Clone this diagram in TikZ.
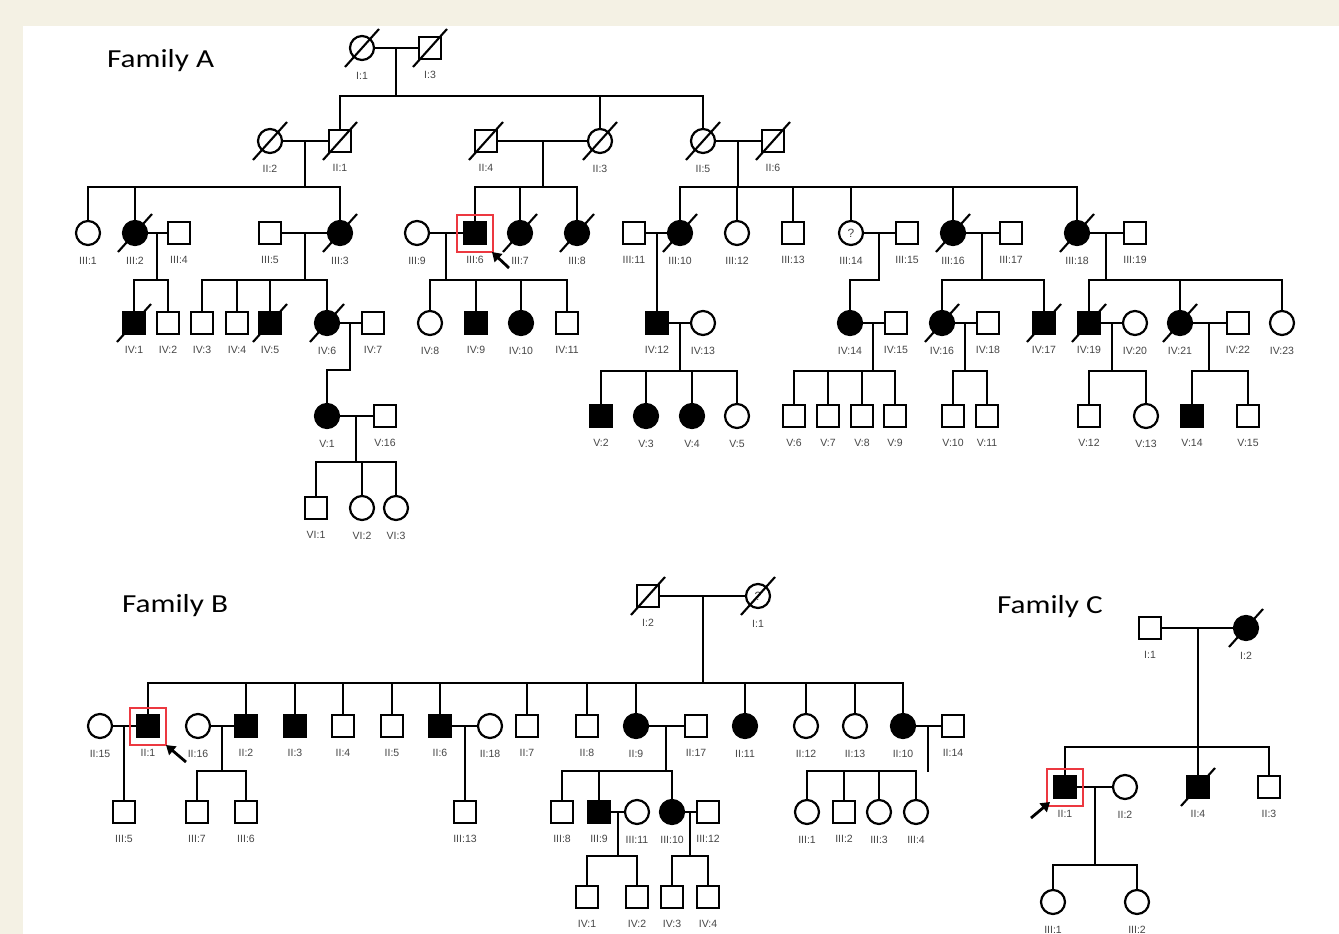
\documentclass[tikz,border=0pt]{standalone}
\usepackage{fontspec}
\setmainfont{Liberation Sans}
\newfontfamily\famfont[FakeStretch=1.2]{Carlito}
\usetikzlibrary{arrows.meta,calc}
\definecolor{beige}{RGB}{244,241,228}
\definecolor{labgray}{RGB}{70,70,70}
\definecolor{pred}{RGB}{236,56,64}
\tikzset{
  ln/.style={line width=2pt, line cap=rect},
  sym/.style={draw, line width=2.2pt, fill=white, inner sep=0pt},
  mal/.style={sym, rectangle, minimum size=22pt},
  fem/.style={sym, circle, minimum size=24pt},
  aff/.style={fill=black},
  near/.style={label distance=7pt},
  slash/.style={line width=2.1pt},
  pbox/.style={draw=pred, line width=2pt, minimum width=36pt, minimum height=37pt, inner sep=0pt},
  parr/.style={line width=2.8pt, -{Triangle[length=9pt,width=11pt]}},
  title/.style={anchor=base west, font=\famfont\fontsize{26}{30}\selectfont, inner sep=0pt},
  every label/.style={font=\fontsize{10.5}{11}\selectfont, text=labgray, inner sep=0pt},
  qmark/.style={font=\fontsize{12}{13}\selectfont, text=labgray}
}
\newcommand{\pers}[5]{\node[#1,label={below:{#5}}] (#2) at (#3,#4) {};}
\newcommand{\dead}[1]{\draw[slash] (#1.center) ++(-17,19) -- ++(34,-38);}
\newcommand{\marr}[3]{\draw[ln] (#1) -- (#2); \coordinate (#3) at ($(#1)!0.5!(#2)$);}
\newcommand{\kids}[5]{%
  \path (0,#2) coordinate (sy);
  \draw[ln] (#1) -- (#1 |- sy);
  \draw[ln] (#3 |- sy) -- (#4 |- sy);
  \foreach \kid in {#5} {\draw[ln] (\kid |- sy) -- (\kid);}
}
\begin{document}
\begin{tikzpicture}[x=1pt,y=-1pt,label distance=10.5pt]
\useasboundingbox (0,0) rectangle (1339,934);
\fill[beige] (0,0) rectangle (1339,934);
\fill[white] (23,26) rectangle (1339,934);

% ---------------- Family A ----------------
\node[title] (tA) at (107,68) {Family A};
% Gen I
\pers{fem}{aI1}{362}{48}{I:1}
\pers{mal}{aI3}{430}{48}{I:3}
% Gen II
\pers{fem}{aII2}{270}{141}{II:2}
\pers{mal}{aII1}{340}{141}{II:1}
\pers{mal}{aII4}{486}{141}{II:4}
\pers{fem}{aII3}{600}{141}{II:3}
\pers{fem}{aII5}{703}{141}{II:5}
\pers{mal}{aII6}{773}{141}{II:6}
% Gen III
\pers{fem}{aIII1}{88}{233}{III:1}
\pers{fem,aff}{aIII2}{135}{233}{III:2}
\pers{mal}{aIII4}{179}{233}{III:4}
\pers{mal}{aIII5}{270}{233}{III:5}
\pers{fem,aff}{aIII3}{340}{233}{III:3}
\pers{fem}{aIII9}{417}{233}{III:9}
\pers{mal,aff}{aIII6}{475}{233}{III:6}
\pers{fem,aff}{aIII7}{520}{233}{III:7}
\pers{fem,aff}{aIII8}{577}{233}{III:8}
\pers{mal}{aIII11}{634}{233}{III:11}
\pers{fem,aff}{aIII10}{680}{233}{III:10}
\pers{fem}{aIII12}{737}{233}{III:12}
\pers{mal}{aIII13}{793}{233}{III:13}
\node[fem,qmark,label={below:{III:14}}] (aIII14) at (851,233) {?};
\pers{mal}{aIII15}{907}{233}{III:15}
\pers{fem,aff}{aIII16}{953}{233}{III:16}
\pers{mal}{aIII17}{1011}{233}{III:17}
\pers{fem,aff}{aIII18}{1077}{233}{III:18}
\pers{mal}{aIII19}{1135}{233}{III:19}
% Gen IV
\pers{mal,aff}{aIV1}{134}{323}{IV:1}
\pers{mal}{aIV2}{168}{323}{IV:2}
\pers{mal}{aIV3}{202}{323}{IV:3}
\pers{mal}{aIV4}{237}{323}{IV:4}
\pers{mal,aff}{aIV5}{270}{323}{IV:5}
\pers{fem,aff}{aIV6}{327}{323}{IV:6}
\pers{mal}{aIV7}{373}{323}{IV:7}
\pers{fem}{aIV8}{430}{323}{IV:8}
\pers{mal,aff}{aIV9}{476}{323}{IV:9}
\pers{fem,aff}{aIV10}{521}{323}{IV:10}
\pers{mal}{aIV11}{567}{323}{IV:11}
\pers{mal,aff}{aIV12}{657}{323}{IV:12}
\pers{fem}{aIV13}{703}{323}{IV:13}
\pers{fem,aff}{aIV14}{850}{323}{IV:14}
\pers{mal}{aIV15}{896}{323}{IV:15}
\pers{fem,aff}{aIV16}{942}{323}{IV:16}
\pers{mal}{aIV18}{988}{323}{IV:18}
\pers{mal,aff}{aIV17}{1044}{323}{IV:17}
\pers{mal,aff}{aIV19}{1089}{323}{IV:19}
\pers{fem}{aIV20}{1135}{323}{IV:20}
\pers{fem,aff}{aIV21}{1180}{323}{IV:21}
\pers{mal}{aIV22}{1238}{323}{IV:22}
\pers{fem}{aIV23}{1282}{323}{IV:23}
% Gen V
\pers{fem,aff}{aV1}{327}{416}{V:1}
\pers{mal}{aV16}{385}{416}{V:16}
\pers{mal,aff}{aV2}{601}{416}{V:2}
\pers{fem,aff}{aV3}{646}{416}{V:3}
\pers{fem,aff}{aV4}{692}{416}{V:4}
\pers{fem}{aV5}{737}{416}{V:5}
\pers{mal}{aV6}{794}{416}{V:6}
\pers{mal}{aV7}{828}{416}{V:7}
\pers{mal}{aV8}{862}{416}{V:8}
\pers{mal}{aV9}{895}{416}{V:9}
\pers{mal}{aV10}{953}{416}{V:10}
\pers{mal}{aV11}{987}{416}{V:11}
\pers{mal}{aV12}{1089}{416}{V:12}
\pers{fem}{aV13}{1146}{416}{V:13}
\pers{mal,aff}{aV14}{1192}{416}{V:14}
\pers{mal}{aV15}{1248}{416}{V:15}
% Gen VI
\pers{mal}{aVI1}{316}{508}{VI:1}
\pers{fem}{aVI2}{362}{508}{VI:2}
\pers{fem}{aVI3}{396}{508}{VI:3}

% lines A
\marr{aI1}{aI3}{maI}
\kids{maI}{96}{aII1}{aII5}{aII1,aII3,aII5}
\marr{aII2}{aII1}{maII1}
\marr{aII4}{aII3}{maII2}
\marr{aII5}{aII6}{maII3}
\kids{maII1}{187}{aIII1}{aIII3}{aIII1,aIII2,aIII3}
\kids{maII2}{187}{aIII6}{aIII8}{aIII6,aIII7,aIII8}
\kids{maII3}{187}{aIII10}{aIII18}{aIII10,aIII12,aIII13,aIII14,aIII16,aIII18}
\marr{aIII2}{aIII4}{maIII1}
\marr{aIII5}{aIII3}{maIII2}
\marr{aIII9}{aIII6}{maIII3}
\marr{aIII11}{aIII10}{maIII4}
\marr{aIII14}{aIII15}{maIII5}
\marr{aIII16}{aIII17}{maIII6}
\marr{aIII18}{aIII19}{maIII7}
\kids{maIII1}{280}{aIV1}{aIV2}{aIV1,aIV2}
\kids{maIII2}{280}{aIV3}{aIV6}{aIV3,aIV4,aIV5,aIV6}
\kids{maIII3}{280}{aIV8}{aIV11}{aIV8,aIV9,aIV10,aIV11}
\draw[ln] (maIII4) -- (maIII4 |- aIV12.north);
\path (0,280) coordinate (sy);
\draw[ln] (maIII5) -- (maIII5 |- sy) -| (aIV14);
\kids{maIII6}{280}{aIV16}{aIV17}{aIV16,aIV17}
\kids{maIII7}{280}{aIV19}{aIV23}{aIV19,aIV21,aIV23}
\marr{aIV6}{aIV7}{maIV1}
\marr{aIV12}{aIV13}{maIV2}
\marr{aIV14}{aIV15}{maIV3}
\marr{aIV16}{aIV18}{maIV4}
\marr{aIV19}{aIV20}{maIV5}
\marr{aIV21}{aIV22}{maIV6}
\path (0,370) coordinate (sy);
\draw[ln] (maIV1) -- (maIV1 |- sy) -| (aV1);
\kids{maIV2}{371}{aV2}{aV5}{aV2,aV3,aV4,aV5}
\kids{maIV3}{371}{aV6}{aV9}{aV6,aV7,aV8,aV9}
\kids{maIV4}{371}{aV10}{aV11}{aV10,aV11}
\kids{maIV5}{371}{aV12}{aV13}{aV12,aV13}
\kids{maIV6}{371}{aV14}{aV15}{aV14,aV15}
\marr{aV1}{aV16}{maV1}
\kids{maV1}{462}{aVI1}{aVI3}{aVI1,aVI2,aVI3}

\foreach \p in {aI1,aI3,aII2,aII1,aII4,aII3,aII5,aII6,aIII2,aIII3,aIII7,aIII8,aIII10,aIII16,aIII18,aIV1,aIV5,aIV6,aIV16,aIV17,aIV19,aIV21} {\dead{\p}}

\node[pbox] (pbA) at (aIII6) {};
\coordinate (arA1) at (509,268);
\coordinate (arA2) at (492,252);
\draw[parr] (arA1) -- (arA2);

% ---------------- Family B ----------------
\node[title] (tB) at (122,612) {Family B};
\pers{mal}{bI2}{648}{596}{I:2}
\node[fem,qmark,label={below:{I:1}}] (bI1) at (758,596) {?};
\pers{fem}{bII15}{100}{726}{II:15}
\pers{mal,aff}{bII1}{148}{726}{II:1}
\pers{fem}{bII16}{198}{726}{II:16}
\pers{mal,aff}{bII2}{246}{726}{II:2}
\pers{mal,aff}{bII3}{295}{726}{II:3}
\pers{mal}{bII4}{343}{726}{II:4}
\pers{mal}{bII5}{392}{726}{II:5}
\pers{mal,aff}{bII6}{440}{726}{II:6}
\pers{fem}{bII18}{490}{726}{II:18}
\pers{mal}{bII7}{527}{726}{II:7}
\pers{mal}{bII8}{587}{726}{II:8}
\pers{fem,aff}{bII9}{636}{726}{II:9}
\pers{mal}{bII17}{696}{726}{II:17}
\pers{fem,aff}{bII11}{745}{726}{II:11}
\pers{fem}{bII12}{806}{726}{II:12}
\pers{fem}{bII13}{855}{726}{II:13}
\pers{fem,aff}{bII10}{903}{726}{II:10}
\pers{mal}{bII14}{953}{726}{II:14}
\pers{mal}{bIII5}{124}{812}{III:5}
\pers{mal}{bIII7}{197}{812}{III:7}
\pers{mal}{bIII6}{246}{812}{III:6}
\pers{mal}{bIII13}{465}{812}{III:13}
\pers{mal}{bIII8}{562}{812}{III:8}
\pers{mal,aff}{bIII9}{599}{812}{III:9}
\pers{fem}{bIII11}{637}{812}{III:11}
\pers{fem,aff}{bIII10}{672}{812}{III:10}
\pers{mal}{bIII12}{708}{812}{III:12}
\pers{fem}{bIII1}{807}{812}{III:1}
\pers{mal}{bIII2}{844}{812}{III:2}
\pers{fem}{bIII3}{879}{812}{III:3}
\pers{fem}{bIII4}{916}{812}{III:4}
\pers{mal}{bIV1}{587}{897}{IV:1}
\pers{mal}{bIV2}{637}{897}{IV:2}
\pers{mal}{bIV3}{672}{897}{IV:3}
\pers{mal}{bIV4}{708}{897}{IV:4}

\marr{bI2}{bI1}{mbI}
\kids{mbI}{683}{bII1}{bII10}{bII1,bII2,bII3,bII4,bII5,bII6,bII7,bII8,bII9,bII11,bII12,bII13,bII10}
\marr{bII15}{bII1}{mb1}
\marr{bII16}{bII2}{mb2}
\marr{bII6}{bII18}{mb3}
\marr{bII9}{bII17}{mb4}
\marr{bII10}{bII14}{mb5}
\draw[ln] (mb1) -- (mb1 |- bIII5.north);
\kids{mb2}{771}{bIII7}{bIII6}{bIII7,bIII6}
\draw[ln] (mb3) -- (mb3 |- bIII13.north);
\kids{mb4}{771}{bIII8}{bIII10}{bIII8,bIII9,bIII10}
\kids{mb5}{771}{bIII1}{bIII4}{bIII1,bIII2,bIII3,bIII4}
\marr{bIII9}{bIII11}{mb6}
\marr{bIII10}{bIII12}{mb7}
\kids{mb6}{856}{bIV1}{bIV2}{bIV1,bIV2}
\kids{mb7}{856}{bIV3}{bIV4}{bIV3,bIV4}

\dead{bI2}
\dead{bI1}
\node[pbox] (pbB) at (bII1) {};
\coordinate (arB1) at (186,762);
\coordinate (arB2) at (166,745);
\draw[parr] (arB1) -- (arB2);

% ---------------- Family C ----------------
\node[title] (tC) at (997,613) {Family C};
\pers{mal,near}{cI1}{1150}{628}{I:1}
\pers{fem,aff,near}{cI2}{1246}{628}{I:2}
\pers{mal,aff,near}{cII1}{1065}{787}{II:1}
\pers{fem,near}{cII2}{1125}{787}{II:2}
\pers{mal,aff,near}{cII4}{1198}{787}{II:4}
\pers{mal,near}{cII3}{1269}{787}{II:3}
\pers{fem,near}{cIII1}{1053}{902}{III:1}
\pers{fem,near}{cIII2}{1137}{902}{III:2}

\marr{cI1}{cI2}{mcI}
\kids{mcI}{747}{cII1}{cII3}{cII1,cII4,cII3}
\marr{cII1}{cII2}{mc1}
\kids{mc1}{865}{cIII1}{cIII2}{cIII1,cIII2}

\dead{cI2}
\dead{cII4}
\node[pbox] (pbC) at (cII1) {};
\coordinate (arC1) at (1031,818);
\coordinate (arC2) at (1050,802);
\draw[parr] (arC1) -- (arC2);
\end{tikzpicture}
\end{document}
